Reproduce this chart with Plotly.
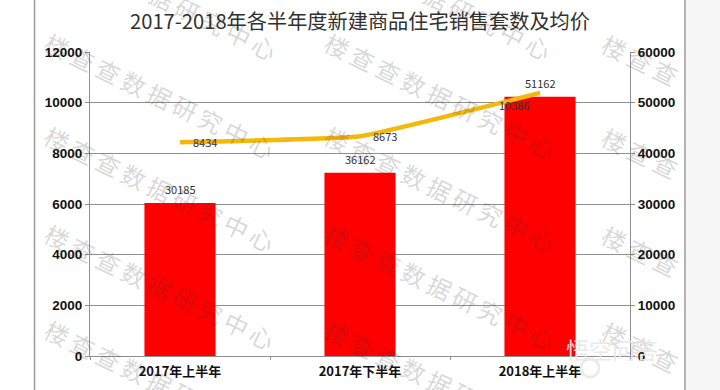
import plotly.graph_objects as go

categories = ["2017年上半年", "2017年下半年", "2018年上半年"]
units_sold = [30185, 36162, 51162]
avg_price = [8434, 8673, 10386]
left_ticks = [0, 2000, 4000, 6000, 8000, 10000, 12000]
right_ticks = [0, 10000, 20000, 30000, 40000, 50000, 60000]
title_text = "2017-2018年各半年度新建商品住宅销售套数及均价"
watermark = "楼查查数据研究中心"
logo_text = "悟空问答"

W, H = 720, 390
L, R, T, B = 90, 90, 52, 34
px = lambda x: (x - L) / (W - L - R)
py = lambda y: 1 - (y - T) / (H - T - B)
CJK = "Noto Sans CJK SC"
GRID = "#8f8f8f"
LABEL = dict(family=CJK, size=11, color="#333333")
SEP = "\u200a\u200a\u200a"

fig = go.Figure()
fig.add_trace(go.Bar(
    x=categories, y=units_sold, yaxis="y", marker=dict(color="#ff0000", line=dict(width=0)),
    width=0.395, showlegend=False))
fig.add_trace(go.Scatter(
    x=categories, y=avg_price, yaxis="y2", mode="lines",
    line=dict(color="#f4b80a", width=4.5, shape="spline", smoothing=0.3), showlegend=False))

annotations = []
for cat, val in zip(categories, units_sold):
    annotations.append(dict(x=cat, y=val, xref="x", yref="y", text=str(val), showarrow=False,
                            yshift=14, font=LABEL))
for cat, val, dx, dy in zip(categories, avg_price, [25, 25, -26], [0, 0, -12]):
    annotations.append(dict(x=cat, y=val, xref="x", yref="y2", text=str(val), showarrow=False,
                            xshift=dx, yshift=dy, font=LABEL))

def wm(cx, cy, text):
    annotations.append(dict(x=px(cx), y=py(cy), xref="paper", yref="paper", text=text, showarrow=False,
                            textangle=26, xanchor="center", yanchor="middle",
                            font=dict(family=CJK, size=24, color="rgba(50,50,50,0.2)")))

spaced = SEP.join(watermark)
for cy in [95, 188, 286, 382]:
    wm(160, cy, spaced)
    wm(440, cy, spaced)
    wm(640, cy - 36, SEP.join(watermark[:3]))
wm(200, 16, SEP.join(watermark[3:]))
wm(475, 16, SEP.join(watermark[3:]))
annotations.append(dict(x=px(660), y=py(368), xref="paper", yref="paper", text=logo_text, showarrow=False,
                        font=dict(family=CJK, size=23, color="rgba(232,232,232,0.95)")))

shapes = [
    dict(type="rect", xref="paper", yref="paper", x0=px(686), x1=px(720), y0=py(390), y1=py(0),
         fillcolor="#f7f7f7", line=dict(width=0), layer="below"),
    dict(type="line", xref="paper", yref="paper", x0=px(34.5), x1=px(34.5), y0=py(390), y1=py(0),
         line=dict(color="#9a9a9a", width=1.5), layer="below"),
    dict(type="line", xref="paper", yref="paper", x0=px(685), x1=px(685), y0=py(390), y1=py(0),
         line=dict(color="#9a9a9a", width=1.5), layer="below"),
    dict(type="circle", xref="paper", yref="paper", x0=px(581), x1=px(599), y0=py(377), y1=py(359),
         line=dict(color="rgba(232,232,232,0.95)", width=2.5), layer="above"),
]

axfont = dict(family="Liberation Sans", size=13.5, color="#111111", weight="bold")
fig.update_layout(
    width=W, height=H, margin=dict(l=L, r=R, t=T, b=B, autoexpand=False),
    paper_bgcolor="white", plot_bgcolor="white", bargap=0.6,
    title=dict(text=title_text, x=360 / W, xanchor="center", y=1 - 22 / H, yanchor="middle",
               font=dict(family=CJK, size=20.2, color="#303030")),
    xaxis=dict(type="category", showline=True, linecolor=GRID, linewidth=1.2, ticks="outside", ticklen=3,
               tickcolor=GRID, tickson="boundaries", showgrid=False, ticklabelstandoff=3,
               tickfont=dict(family=CJK, size=13, color="#111111", weight="bold"), mirror=False),
    yaxis=dict(side="right", range=[0, 60000], tickvals=right_ticks, tickformat="d", showgrid=True,
               gridcolor=GRID, gridwidth=1,
               showline=True, linecolor=GRID, linewidth=1.2, ticks="outside", ticklen=4, tickcolor=GRID,
               tickfont=axfont, zeroline=False),
    yaxis2=dict(side="left", overlaying="y", range=[0, 12000], tickvals=left_ticks, tickformat="d", showgrid=False,
                showline=True, linecolor=GRID, linewidth=1.2, ticks="outside", ticklen=4, tickcolor=GRID,
                tickfont=axfont, zeroline=False),
    annotations=annotations, shapes=shapes,
)
fig.write_html("out.html", config=dict(displayModeBar=False),
               post_script="document.body.style.margin='0';document.documentElement.style.overflow='hidden';")
